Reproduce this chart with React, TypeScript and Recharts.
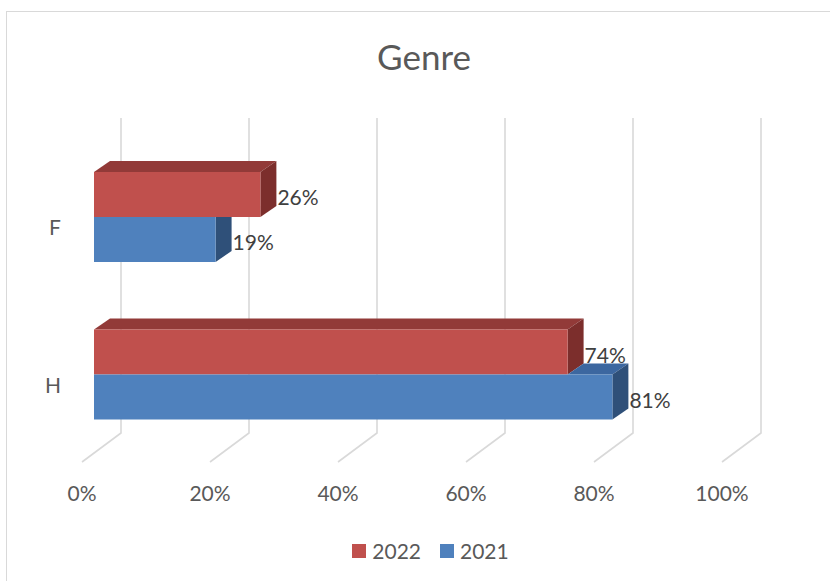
import React from 'react';
import { BarChart, Bar, XAxis, YAxis, CartesianGrid, LabelList, Legend } from 'recharts';

// ---- data ----
const categories = ['F', 'H'];
const series2022 = [0.26, 0.74];
const series2021 = [0.19, 0.81];
const seriesNames = ['2022', '2021'];
const xTicks = [0, 0.2, 0.4, 0.6, 0.8, 1];

const data = categories.map((c, i) => ({ cat: c, s2022: series2022[i], s2021: series2021[i] }));

const FONT = 'Lato, "Noto Sans", sans-serif';
const LABEL_SIZE = 21;
const COLORS: Record<string, { front: string; top: string; side: string }> = {
  s2022: { front: '#C0504D', top: '#923A38', side: '#7C2E2C' },
  s2021: { front: '#4F81BD', top: '#3C67A0', side: '#2F5079' },
};
const DX = 16;
const DY = 11;
const BACK_DX = 27;
const BACK_DY = 20;
const FRONT_DX = 12;
const FRONT_DY = 9;
const GRID = '#D9D9D9';

const pts = (arr: number[][]) => arr.map((p) => `${p[0]},${p[1]}`).join(' ');

const UpperBar = (p: any) => {
  const { x, y, width: w, height: h } = p;
  const c = COLORS.s2022;
  return (
    <g>
      <polygon points={pts([[x, y], [x + DX, y - DY], [x + w + DX, y - DY], [x + w, y]])} fill={c.top} />
      <polygon points={pts([[x + w, y], [x + w + DX, y - DY], [x + w + DX, y + h - DY], [x + w, y + h]])} fill={c.side} />
      <rect x={x} y={y} width={w} height={h} fill={c.front} />
    </g>
  );
};

const LowerBar = (p: any) => {
  const { x, y, width: w, height: h, payload } = p;
  const c = COLORS.s2021;
  const upperW = payload.s2021 > 0 ? (w * payload.s2022) / payload.s2021 : 0;
  const longer = w > upperW;
  return (
    <g>
      {longer && (
        <polygon
          points={pts([[x + upperW, y], [x + upperW + DX, y - DY], [x + w + DX, y - DY], [x + w, y]])}
          fill={c.top}
        />
      )}
      {longer ? (
        <polygon points={pts([[x + w, y], [x + w + DX, y - DY], [x + w + DX, y + h - DY], [x + w, y + h]])} fill={c.side} />
      ) : (
        <polygon points={pts([[x + w, y], [x + w + DX, y], [x + w + DX, y + h - DY], [x + w, y + h]])} fill={c.side} />
      )}
      <rect x={x} y={y} width={w} height={h} fill={c.front} />
    </g>
  );
};

const gridLine = (p: any) => {
  const { x1, y1, y2, index } = p;
  const bx = x1 + BACK_DX;
  return (
    <polyline
      key={`gl-${index}`}
      points={pts([[bx, y1 - BACK_DY], [bx, y2 - BACK_DY], [x1 - FRONT_DX, y2 + FRONT_DY]])}
      fill="none"
      stroke={GRID}
      strokeWidth={1.6}
    />
  );
};

const XTick = (p: any) => (
  <text
    x={p.x - FRONT_DX}
    y={492}
    textAnchor="middle"
    dominantBaseline="central"
    fill="#595959"
    fontSize={LABEL_SIZE}
    fontFamily={FONT}
  >
    {`${Math.round(p.payload.value * 100)}%`}
  </text>
);

const YTick = (p: any) => (
  <text
    x={61}
    y={p.y + 10}
    textAnchor="end"
    dominantBaseline="central"
    fill="#595959"
    fontSize={LABEL_SIZE}
    fontFamily={FONT}
  >
    {p.payload.value}
  </text>
);

const ValueLabel = (p: any) => {
  const { x, y, width, height, value } = p;
  return (
    <text
      x={x + width + DX + 1}
      y={y + height / 2 + 2}
      textAnchor="start"
      dominantBaseline="central"
      fill="#404040"
      fontSize={LABEL_SIZE}
      fontFamily={FONT}
    >
      {`${Math.round(value * 100)}%`}
    </text>
  );
};

const seriesKeys = ['s2022', 's2021'];

const LegendContent = () => (
  <div
    style={{
      display: 'flex',
      justifyContent: 'center',
      alignItems: 'center',
      height: 14,
      fontFamily: FONT,
      fontSize: LABEL_SIZE,
      color: '#595959',
    }}
  >
    {seriesNames.map((n, i) => (
      <div key={n} style={{ display: 'flex', alignItems: 'center', marginLeft: i === 0 ? 0 : 19 }}>
        <div style={{ width: 14, height: 14, background: COLORS[seriesKeys[i]].front, marginRight: 6 }} />
        <span style={{ lineHeight: '14px' }}>{n}</span>
      </div>
    ))}
  </div>
);

export default function App() {
  return (
    <div
      style={{
        position: 'absolute',
        left: 0,
        top: 0,
        width: 830,
        height: 581,
        overflow: 'hidden',
        background: '#fff',
      }}
    >
      <div
        style={{
          position: 'absolute',
          left: 6,
          top: 11,
          width: 900,
          height: 700,
          border: `1.6px solid ${GRID}`,
          boxSizing: 'border-box',
        }}
      />
      <div
        style={{
          position: 'absolute',
          left: 0,
          top: 35,
          width: 848,
          textAlign: 'center',
          fontFamily: FONT,
          fontSize: 35,
          lineHeight: '42px',
          color: '#595959',
        }}
      >
        Genre
      </div>
      <div style={{ position: 'absolute', left: 0, top: 0 }}>
        <BarChart
          width={830}
          height={581}
          data={data}
          layout="vertical"
          margin={{ top: 138, right: 96, left: 0, bottom: 0 }}
          barCategoryGap={34}
          barGap={0}
        >
          <CartesianGrid horizontal={false} vertical={gridLine} />
          <XAxis
            type="number"
            domain={[0, 1]}
            ticks={xTicks}
            height={128}
            axisLine={false}
            tickLine={false}
            tickSize={0}
            tickMargin={0}
            tick={<XTick />}
            interval={0}
          />
          <YAxis
            type="category"
            dataKey="cat"
            width={94}
            axisLine={false}
            tickLine={false}
            tickSize={0}
            tickMargin={0}
            tick={<YTick />}
          />
          <Legend
            content={<LegendContent />}
            wrapperStyle={{ position: 'absolute', left: 0, top: 544, width: 861, height: 0 }}
          />
          <Bar dataKey="s2022" name={seriesNames[0]} fill={COLORS.s2022.front} shape={UpperBar} isAnimationActive={false}>
            <LabelList dataKey="s2022" content={<ValueLabel />} />
          </Bar>
          <Bar dataKey="s2021" name={seriesNames[1]} fill={COLORS.s2021.front} shape={LowerBar} isAnimationActive={false}>
            <LabelList dataKey="s2021" content={<ValueLabel />} />
          </Bar>
        </BarChart>
      </div>
    </div>
  );
}
